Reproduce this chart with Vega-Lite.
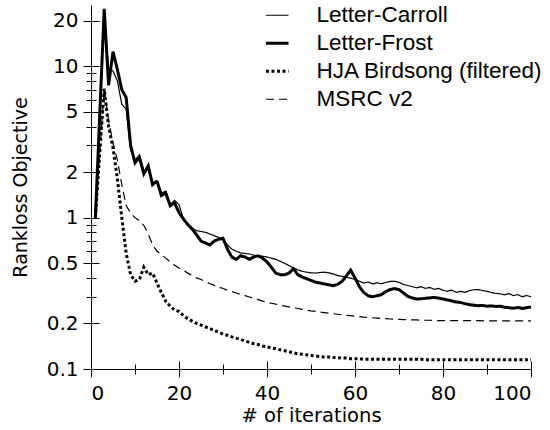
{
"$schema": "https://vega.github.io/schema/vega-lite/v6.json",
"width": 440, "height": 364,
"autosize": "none",
"padding": {"left": 91, "top": 5, "right": 19, "bottom": 61},
"background": "white",
"config": {
  "view": {"stroke": null},
  "axis": {"grid": false, "labelFont": "DejaVu Sans", "titleFont": "DejaVu Sans", "labelColor": "black", "titleColor": "black", "tickColor": "black", "domainColor": "black", "labelFontSize": 20, "titleFontSize": 19, "titleFontWeight": "normal", "tickWidth": 1, "domainWidth": 1},
  "legend": {"orient": "none", "legendX": 175, "legendY": -1, "labelFont": "Liberation Sans", "labelFontSize": 22.5, "labelColor": "black", "symbolSize": 225, "symbolType": "M-1.5,0H1.5", "symbolStrokeColor": "black", "labelOffset": 28, "labelLimit": 400, "rowPadding": 5}
},
"data": {"values": [
{"i":1,"Letter-Carroll":1.0,"Letter-Frost":1.0,"HJA Birdsong (filtered)":1.0,"MSRC v2":1.0},
{"i":2,"Letter-Carroll":4.5,"Letter-Frost":4.9,"HJA Birdsong (filtered)":2.7,"MSRC v2":2.7},
{"i":3,"Letter-Carroll":22,"Letter-Frost":24,"HJA Birdsong (filtered)":7.1,"MSRC v2":7.1},
{"i":4,"Letter-Carroll":9.7,"Letter-Frost":7.5,"HJA Birdsong (filtered)":4.0,"MSRC v2":4.4},
{"i":5,"Letter-Carroll":9.3,"Letter-Frost":12.5,"HJA Birdsong (filtered)":2.9,"MSRC v2":3.1},
{"i":6,"Letter-Carroll":8.0,"Letter-Frost":9.5,"HJA Birdsong (filtered)":1.8,"MSRC v2":2.4},
{"i":7,"Letter-Carroll":5.6,"Letter-Frost":7.0,"HJA Birdsong (filtered)":1.0,"MSRC v2":1.65},
{"i":8,"Letter-Carroll":5.2,"Letter-Frost":6.2,"HJA Birdsong (filtered)":0.58,"MSRC v2":1.2},
{"i":9,"Letter-Carroll":2.8,"Letter-Frost":3.0,"HJA Birdsong (filtered)":0.42,"MSRC v2":1.07},
{"i":10,"Letter-Carroll":2.4,"Letter-Frost":2.3,"HJA Birdsong (filtered)":0.38,"MSRC v2":1.0},
{"i":11,"Letter-Carroll":2.6,"Letter-Frost":2.5,"HJA Birdsong (filtered)":0.39,"MSRC v2":0.95},
{"i":12,"Letter-Carroll":2.05,"Letter-Frost":1.95,"HJA Birdsong (filtered)":0.47,"MSRC v2":0.89},
{"i":13,"Letter-Carroll":2.1,"Letter-Frost":2.2,"HJA Birdsong (filtered)":0.42,"MSRC v2":0.78},
{"i":14,"Letter-Carroll":1.7,"Letter-Frost":1.65,"HJA Birdsong (filtered)":0.43,"MSRC v2":0.66},
{"i":15,"Letter-Carroll":1.75,"Letter-Frost":1.75,"HJA Birdsong (filtered)":0.37,"MSRC v2":0.6},
{"i":16,"Letter-Carroll":1.45,"Letter-Frost":1.4,"HJA Birdsong (filtered)":0.32,"MSRC v2":0.57},
{"i":17,"Letter-Carroll":1.5,"Letter-Frost":1.45,"HJA Birdsong (filtered)":0.28,"MSRC v2":0.54},
{"i":18,"Letter-Carroll":1.22,"Letter-Frost":1.2,"HJA Birdsong (filtered)":0.26,"MSRC v2":0.51},
{"i":19,"Letter-Carroll":1.3,"Letter-Frost":1.25,"HJA Birdsong (filtered)":0.245,"MSRC v2":0.485},
{"i":20,"Letter-Carroll":1.22,"Letter-Frost":1.08,"HJA Birdsong (filtered)":0.24,"MSRC v2":0.465},
{"i":21,"Letter-Carroll":0.98,"Letter-Frost":0.98,"HJA Birdsong (filtered)":0.225,"MSRC v2":0.45},
{"i":22,"Letter-Carroll":0.9,"Letter-Frost":0.9,"HJA Birdsong (filtered)":0.215,"MSRC v2":0.43},
{"i":23,"Letter-Carroll":0.85,"Letter-Frost":0.84,"HJA Birdsong (filtered)":0.207,"MSRC v2":0.415},
{"i":24,"Letter-Carroll":0.82,"Letter-Frost":0.77,"HJA Birdsong (filtered)":0.2,"MSRC v2":0.4},
{"i":25,"Letter-Carroll":0.81,"Letter-Frost":0.7,"HJA Birdsong (filtered)":0.195,"MSRC v2":0.39},
{"i":26,"Letter-Carroll":0.8,"Letter-Frost":0.68,"HJA Birdsong (filtered)":0.19,"MSRC v2":0.378},
{"i":27,"Letter-Carroll":0.78,"Letter-Frost":0.66,"HJA Birdsong (filtered)":0.185,"MSRC v2":0.367},
{"i":28,"Letter-Carroll":0.76,"Letter-Frost":0.7,"HJA Birdsong (filtered)":0.18,"MSRC v2":0.357},
{"i":29,"Letter-Carroll":0.74,"Letter-Frost":0.72,"HJA Birdsong (filtered)":0.175,"MSRC v2":0.348},
{"i":30,"Letter-Carroll":0.72,"Letter-Frost":0.73,"HJA Birdsong (filtered)":0.17,"MSRC v2":0.34},
{"i":31,"Letter-Carroll":0.66,"Letter-Frost":0.62,"HJA Birdsong (filtered)":0.167,"MSRC v2":0.332},
{"i":32,"Letter-Carroll":0.62,"Letter-Frost":0.55,"HJA Birdsong (filtered)":0.163,"MSRC v2":0.325},
{"i":33,"Letter-Carroll":0.6,"Letter-Frost":0.53,"HJA Birdsong (filtered)":0.16,"MSRC v2":0.318},
{"i":34,"Letter-Carroll":0.585,"Letter-Frost":0.56,"HJA Birdsong (filtered)":0.157,"MSRC v2":0.311},
{"i":35,"Letter-Carroll":0.58,"Letter-Frost":0.55,"HJA Birdsong (filtered)":0.153,"MSRC v2":0.305},
{"i":36,"Letter-Carroll":0.575,"Letter-Frost":0.53,"HJA Birdsong (filtered)":0.15,"MSRC v2":0.299},
{"i":37,"Letter-Carroll":0.565,"Letter-Frost":0.55,"HJA Birdsong (filtered)":0.147,"MSRC v2":0.293},
{"i":38,"Letter-Carroll":0.56,"Letter-Frost":0.56,"HJA Birdsong (filtered)":0.145,"MSRC v2":0.287},
{"i":39,"Letter-Carroll":0.556,"Letter-Frost":0.54,"HJA Birdsong (filtered)":0.142,"MSRC v2":0.281},
{"i":40,"Letter-Carroll":0.55,"Letter-Frost":0.51,"HJA Birdsong (filtered)":0.14,"MSRC v2":0.276},
{"i":41,"Letter-Carroll":0.54,"Letter-Frost":0.47,"HJA Birdsong (filtered)":0.138,"MSRC v2":0.272},
{"i":42,"Letter-Carroll":0.53,"Letter-Frost":0.43,"HJA Birdsong (filtered)":0.136,"MSRC v2":0.268},
{"i":43,"Letter-Carroll":0.515,"Letter-Frost":0.42,"HJA Birdsong (filtered)":0.134,"MSRC v2":0.264},
{"i":44,"Letter-Carroll":0.5,"Letter-Frost":0.42,"HJA Birdsong (filtered)":0.132,"MSRC v2":0.26},
{"i":45,"Letter-Carroll":0.482,"Letter-Frost":0.43,"HJA Birdsong (filtered)":0.13,"MSRC v2":0.257},
{"i":46,"Letter-Carroll":0.465,"Letter-Frost":0.46,"HJA Birdsong (filtered)":0.128,"MSRC v2":0.254},
{"i":47,"Letter-Carroll":0.452,"Letter-Frost":0.42,"HJA Birdsong (filtered)":0.126,"MSRC v2":0.251},
{"i":48,"Letter-Carroll":0.442,"Letter-Frost":0.405,"HJA Birdsong (filtered)":0.125,"MSRC v2":0.248},
{"i":49,"Letter-Carroll":0.436,"Letter-Frost":0.395,"HJA Birdsong (filtered)":0.124,"MSRC v2":0.245},
{"i":50,"Letter-Carroll":0.432,"Letter-Frost":0.385,"HJA Birdsong (filtered)":0.123,"MSRC v2":0.242},
{"i":51,"Letter-Carroll":0.43,"Letter-Frost":0.375,"HJA Birdsong (filtered)":0.122,"MSRC v2":0.24},
{"i":52,"Letter-Carroll":0.434,"Letter-Frost":0.37,"HJA Birdsong (filtered)":0.121,"MSRC v2":0.238},
{"i":53,"Letter-Carroll":0.436,"Letter-Frost":0.365,"HJA Birdsong (filtered)":0.12,"MSRC v2":0.236},
{"i":54,"Letter-Carroll":0.432,"Letter-Frost":0.36,"HJA Birdsong (filtered)":0.12,"MSRC v2":0.234},
{"i":55,"Letter-Carroll":0.425,"Letter-Frost":0.355,"HJA Birdsong (filtered)":0.119,"MSRC v2":0.232},
{"i":56,"Letter-Carroll":0.415,"Letter-Frost":0.362,"HJA Birdsong (filtered)":0.119,"MSRC v2":0.23},
{"i":57,"Letter-Carroll":0.41,"Letter-Frost":0.378,"HJA Birdsong (filtered)":0.118,"MSRC v2":0.228},
{"i":58,"Letter-Carroll":0.405,"Letter-Frost":0.41,"HJA Birdsong (filtered)":0.118,"MSRC v2":0.226},
{"i":59,"Letter-Carroll":0.398,"Letter-Frost":0.45,"HJA Birdsong (filtered)":0.117,"MSRC v2":0.225},
{"i":60,"Letter-Carroll":0.39,"Letter-Frost":0.4,"HJA Birdsong (filtered)":0.117,"MSRC v2":0.223},
{"i":61,"Letter-Carroll":0.38,"Letter-Frost":0.35,"HJA Birdsong (filtered)":0.117,"MSRC v2":0.222},
{"i":62,"Letter-Carroll":0.37,"Letter-Frost":0.32,"HJA Birdsong (filtered)":0.116,"MSRC v2":0.22},
{"i":63,"Letter-Carroll":0.375,"Letter-Frost":0.305,"HJA Birdsong (filtered)":0.116,"MSRC v2":0.219},
{"i":64,"Letter-Carroll":0.365,"Letter-Frost":0.3,"HJA Birdsong (filtered)":0.116,"MSRC v2":0.218},
{"i":65,"Letter-Carroll":0.371,"Letter-Frost":0.305,"HJA Birdsong (filtered)":0.116,"MSRC v2":0.217},
{"i":66,"Letter-Carroll":0.366,"Letter-Frost":0.31,"HJA Birdsong (filtered)":0.116,"MSRC v2":0.216},
{"i":67,"Letter-Carroll":0.373,"Letter-Frost":0.325,"HJA Birdsong (filtered)":0.116,"MSRC v2":0.215},
{"i":68,"Letter-Carroll":0.379,"Letter-Frost":0.335,"HJA Birdsong (filtered)":0.116,"MSRC v2":0.214},
{"i":69,"Letter-Carroll":0.38,"Letter-Frost":0.34,"HJA Birdsong (filtered)":0.116,"MSRC v2":0.213},
{"i":70,"Letter-Carroll":0.374,"Letter-Frost":0.335,"HJA Birdsong (filtered)":0.116,"MSRC v2":0.213},
{"i":71,"Letter-Carroll":0.362,"Letter-Frost":0.318,"HJA Birdsong (filtered)":0.116,"MSRC v2":0.212},
{"i":72,"Letter-Carroll":0.356,"Letter-Frost":0.302,"HJA Birdsong (filtered)":0.116,"MSRC v2":0.212},
{"i":73,"Letter-Carroll":0.35,"Letter-Frost":0.295,"HJA Birdsong (filtered)":0.116,"MSRC v2":0.211},
{"i":74,"Letter-Carroll":0.344,"Letter-Frost":0.29,"HJA Birdsong (filtered)":0.116,"MSRC v2":0.211},
{"i":75,"Letter-Carroll":0.35,"Letter-Frost":0.291,"HJA Birdsong (filtered)":0.116,"MSRC v2":0.21},
{"i":76,"Letter-Carroll":0.341,"Letter-Frost":0.293,"HJA Birdsong (filtered)":0.115,"MSRC v2":0.21},
{"i":77,"Letter-Carroll":0.346,"Letter-Frost":0.295,"HJA Birdsong (filtered)":0.115,"MSRC v2":0.21},
{"i":78,"Letter-Carroll":0.336,"Letter-Frost":0.297,"HJA Birdsong (filtered)":0.115,"MSRC v2":0.209},
{"i":79,"Letter-Carroll":0.341,"Letter-Frost":0.294,"HJA Birdsong (filtered)":0.115,"MSRC v2":0.209},
{"i":80,"Letter-Carroll":0.331,"Letter-Frost":0.29,"HJA Birdsong (filtered)":0.115,"MSRC v2":0.209},
{"i":81,"Letter-Carroll":0.326,"Letter-Frost":0.286,"HJA Birdsong (filtered)":0.115,"MSRC v2":0.209},
{"i":82,"Letter-Carroll":0.332,"Letter-Frost":0.282,"HJA Birdsong (filtered)":0.115,"MSRC v2":0.209},
{"i":83,"Letter-Carroll":0.321,"Letter-Frost":0.277,"HJA Birdsong (filtered)":0.115,"MSRC v2":0.209},
{"i":84,"Letter-Carroll":0.326,"Letter-Frost":0.275,"HJA Birdsong (filtered)":0.115,"MSRC v2":0.209},
{"i":85,"Letter-Carroll":0.321,"Letter-Frost":0.27,"HJA Birdsong (filtered)":0.115,"MSRC v2":0.209},
{"i":86,"Letter-Carroll":0.329,"Letter-Frost":0.266,"HJA Birdsong (filtered)":0.115,"MSRC v2":0.209},
{"i":87,"Letter-Carroll":0.334,"Letter-Frost":0.264,"HJA Birdsong (filtered)":0.115,"MSRC v2":0.209},
{"i":88,"Letter-Carroll":0.335,"Letter-Frost":0.262,"HJA Birdsong (filtered)":0.115,"MSRC v2":0.209},
{"i":89,"Letter-Carroll":0.33,"Letter-Frost":0.263,"HJA Birdsong (filtered)":0.115,"MSRC v2":0.208},
{"i":90,"Letter-Carroll":0.326,"Letter-Frost":0.26,"HJA Birdsong (filtered)":0.115,"MSRC v2":0.208},
{"i":91,"Letter-Carroll":0.32,"Letter-Frost":0.261,"HJA Birdsong (filtered)":0.115,"MSRC v2":0.208},
{"i":92,"Letter-Carroll":0.316,"Letter-Frost":0.259,"HJA Birdsong (filtered)":0.115,"MSRC v2":0.208},
{"i":93,"Letter-Carroll":0.314,"Letter-Frost":0.26,"HJA Birdsong (filtered)":0.115,"MSRC v2":0.208},
{"i":94,"Letter-Carroll":0.309,"Letter-Frost":0.256,"HJA Birdsong (filtered)":0.115,"MSRC v2":0.208},
{"i":95,"Letter-Carroll":0.315,"Letter-Frost":0.254,"HJA Birdsong (filtered)":0.115,"MSRC v2":0.208},
{"i":96,"Letter-Carroll":0.305,"Letter-Frost":0.252,"HJA Birdsong (filtered)":0.115,"MSRC v2":0.208},
{"i":97,"Letter-Carroll":0.31,"Letter-Frost":0.255,"HJA Birdsong (filtered)":0.115,"MSRC v2":0.208},
{"i":98,"Letter-Carroll":0.3,"Letter-Frost":0.251,"HJA Birdsong (filtered)":0.115,"MSRC v2":0.208},
{"i":99,"Letter-Carroll":0.306,"Letter-Frost":0.254,"HJA Birdsong (filtered)":0.115,"MSRC v2":0.208},
{"i":100,"Letter-Carroll":0.3,"Letter-Frost":0.257,"HJA Birdsong (filtered)":0.115,"MSRC v2":0.208}
]},
"transform": [{"fold": ["Letter-Carroll", "Letter-Frost", "HJA Birdsong (filtered)", "MSRC v2"], "as": ["series", "value"]}],
"layer": [
  {
    "mark": {"type": "line", "color": "black", "strokeJoin": "miter"},
    "encoding": {
      "x": {"field": "i", "type": "quantitative", "scale": {"domain": [0, 100], "nice": false}, "axis": {"orient": "bottom", "domain": true, "ticks": false, "labels": false, "title": null}},
      "y": {"field": "value", "type": "quantitative", "scale": {"type": "log", "domain": [0.1, 25.4], "nice": false}, "axis": {"orient": "left", "domain": true, "ticks": false, "labels": false, "title": null}},
      "strokeDash": {"field": "series", "type": "nominal", "scale": {"type": "ordinal", "domain": ["Letter-Carroll", "Letter-Frost", "HJA Birdsong (filtered)", "MSRC v2"], "range": [[1, 0], [1, 0], [3, 2.5], [8, 5]]}, "legend": {"title": null}},
      "strokeWidth": {"field": "series", "type": "nominal", "scale": {"type": "ordinal", "domain": ["Letter-Carroll", "Letter-Frost", "HJA Birdsong (filtered)", "MSRC v2"], "range": [1.2, 3, 3, 1.2]}, "legend": {"title": null}}
    }
  },
  {
    "mark": {"type": "line", "opacity": 0},
    "encoding": {
      "x": {"field": "i", "type": "quantitative", "scale": {"domain": [0, 100], "nice": false}, "axis": {"orient": "bottom", "offset": -8, "tickSize": 16, "domain": false, "values": [0, 20, 40, 60, 80, 100], "labelPadding": 6, "title": "# of iterations", "titleFontSize": 19.5, "titlePadding": 3}},
      "y": {"field": "value", "type": "quantitative", "scale": {"type": "log", "domain": [0.1, 25.4], "nice": false}, "axis": {"orient": "left", "offset": -8, "tickSize": 16, "domain": false, "values": [0.1, 0.2, 0.5, 1, 2, 5, 10, 20], "format": "~g", "labelPadding": 5, "title": "Rankloss Objective", "titleFontSize": 19, "titlePadding": 16}},
      "detail": {"field": "series"}
    }
  },
  {
    "mark": {"type": "line", "opacity": 0},
    "encoding": {
      "x": {"field": "i", "type": "quantitative", "scale": {"domain": [0, 100], "nice": false}, "axis": {"orient": "bottom", "offset": -5, "tickSize": 10, "domain": false, "labels": false, "values": [10, 30, 50, 70, 90], "title": null}},
      "y": {"field": "value", "type": "quantitative", "scale": {"type": "log", "domain": [0.1, 25.4], "nice": false}, "axis": {"orient": "left", "offset": -5, "tickSize": 10, "domain": false, "labels": false, "values": [0.3, 0.4, 0.6, 0.7, 0.8, 0.9, 3, 4, 6, 7, 8, 9], "title": null}},
      "detail": {"field": "series"}
    }
  }
],
"resolve": {"axis": {"x": "independent", "y": "independent"}}
}
